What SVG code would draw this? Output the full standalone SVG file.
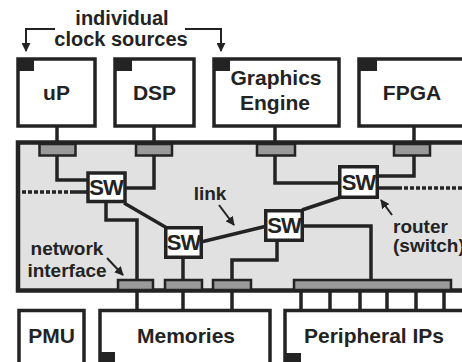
<svg xmlns="http://www.w3.org/2000/svg" width="462" height="362" viewBox="0 0 462 362">
<defs>
<style>
.box{fill:#fff;stroke:#232323;stroke-width:3.5}
.corner{fill:#232323}
.ni{fill:#9a9a9a;stroke:#232323;stroke-width:2.5}
.sw{fill:#fff;stroke:#232323;stroke-width:3.5}
.ln{fill:none;stroke:#232323;stroke-width:3.5}
.thin{fill:none;stroke:#232323;stroke-width:2}
.t{font-family:"Liberation Sans",Arial,sans-serif;font-weight:bold;fill:#232323;text-anchor:middle}
.big{font-size:21px}
.lab{font-size:19px}
.swt{font-size:22px;letter-spacing:-1px}
</style>
<marker id="ah" viewBox="0 0 10 10" refX="9" refY="5" markerWidth="4.5" markerHeight="4.5" orient="auto">
<path d="M0,0 L10,5 L0,10 z" fill="#232323"/>
</marker>
</defs>
<rect width="462" height="362" fill="#fff"/>

<g id="network">
<rect x="18" y="142.5" width="500" height="148" fill="#e1e1e1" stroke="#232323" stroke-width="4.5"/>
</g>

<g id="connectors">
<path class="ln" d="M57,126 V145"/>
<path class="ln" d="M154,126 V145"/>
<path class="ln" d="M275,126 V145"/>
<path class="ln" d="M414,126 V145"/>
<path class="ln" d="M57,155 V180 H88"/>
<path class="ln" d="M154,155 V188 H125"/>
<path class="ln" d="M275,155 V183 H340"/>
<path class="ln" d="M414,155 V176 H377"/>
<path class="ln" d="M72,192 H88"/>
<path class="ln" d="M22,192 H72" stroke-dasharray="4 2"/>
<path class="ln" d="M377,188 H398"/>
<path class="ln" d="M398,188 H462" stroke-dasharray="4 2"/>
<path class="ln" d="M106,201 V220 H137 V280"/>
<path class="ln" d="M124,203 L167,228"/>
<path class="ln" d="M183,257 V280"/>
<path class="ln" d="M201,242 L267,226"/>
<path class="ln" d="M277,240 V260 H232 V280"/>
<path class="ln" d="M302,226 H371 V279"/>
<path class="ln" d="M302,210 L341,197"/>
<path class="ln" d="M137,290 V310 M183,290 V310 M232,290 V310"/>
<path class="ln" d="M301,290 V310 M330,290 V310 M360,290 V310 M387,290 V310 M416,290 V310 M444,290 V310"/>
<path class="thin" d="M55,29 H26 V51" marker-end="url(#ah)"/>
<path class="thin" d="M185,29 H221 V51" marker-end="url(#ah)"/>
<path class="thin" d="M219,205 L234,225" marker-end="url(#ah)"/>
<path class="thin" d="M392,215 L381,200" marker-end="url(#ah)"/>
<path class="thin" d="M107,258 L123,275" marker-end="url(#ah)"/>
</g>

<g id="ni-top">
<rect class="ni" x="39.5" y="144" width="36" height="11.5"/>
<rect class="ni" x="136" y="144" width="36" height="11.5"/>
<rect class="ni" x="257" y="144" width="38" height="11.5"/>
<rect class="ni" x="394" y="144" width="36" height="11.5"/>
</g>
<g id="ni-bottom">
<rect class="ni" x="118" y="280" width="35" height="10"/>
<rect class="ni" x="165" y="280" width="37" height="10"/>
<rect class="ni" x="213" y="280" width="38" height="10"/>
<rect class="ni" x="294" y="280" width="157" height="10"/>
</g>

<g id="uP">
<rect class="box" x="18" y="59" width="77" height="67"/>
<rect class="corner" x="18" y="59" width="16" height="12"/>
<text class="t big" x="56.5" y="100">uP</text>
</g>
<g id="DSP">
<rect class="box" x="115" y="59" width="79" height="67"/>
<rect class="corner" x="115" y="59" width="17" height="12"/>
<text class="t big" x="154.5" y="100">DSP</text>
</g>
<g id="graphics">
<rect class="box" x="214" y="59" width="125" height="67"/>
<rect class="corner" x="214" y="59" width="16" height="12"/>
<text class="t big" x="276" y="85">Graphics</text>
<text class="t big" x="275" y="110">Engine</text>
</g>
<g id="FPGA">
<rect class="box" x="359" y="59" width="200" height="67"/>
<rect class="corner" x="359" y="59" width="18" height="12"/>
<text class="t big" x="412" y="100">FPGA</text>
</g>

<g id="sw1">
<rect class="sw" x="88" y="173" width="37" height="28.5"/>
<text class="t swt" x="106" y="195">SW</text>
</g>
<g id="sw2">
<rect class="sw" x="165.75" y="227.75" width="35.5" height="29.5"/>
<text class="t swt" x="183.5" y="250">SW</text>
</g>
<g id="sw3">
<rect class="sw" x="265.75" y="210.75" width="36.5" height="29.5"/>
<text class="t swt" x="284" y="233">SW</text>
</g>
<g id="sw4">
<rect class="sw" x="339.75" y="166.75" width="37.5" height="30.5"/>
<text class="t swt" x="358.5" y="190">SW</text>
</g>

<g id="PMU">
<rect class="box" x="19" y="310.5" width="65" height="80"/>
<text class="t big" x="51.5" y="343">PMU</text>
</g>
<g id="memories">
<rect class="box" x="100" y="310.5" width="170" height="80"/>
<rect class="corner" x="100" y="352" width="15" height="30"/>
<text class="t big" x="186" y="343">Memories</text>
</g>
<g id="peripheral">
<rect class="box" x="285" y="310.5" width="250" height="80"/>
<rect class="corner" x="285" y="353" width="16" height="30"/>
<text class="t big" x="374" y="343">Peripheral IPs</text>
</g>

<g id="labels">
<text class="t lab" x="122" y="25" style="font-size:20px">individual</text>
<text class="t lab" x="121" y="46" style="font-size:20px">clock sources</text>
<text class="t lab" x="210" y="200">link</text>
<text class="t lab" x="393" y="233" style="text-anchor:start">router</text>
<text class="t lab" x="393" y="252" style="text-anchor:start">(switch)</text>
<text class="t lab" x="67" y="255">network</text>
<text class="t lab" x="67" y="277">interface</text>
</g>
</svg>
